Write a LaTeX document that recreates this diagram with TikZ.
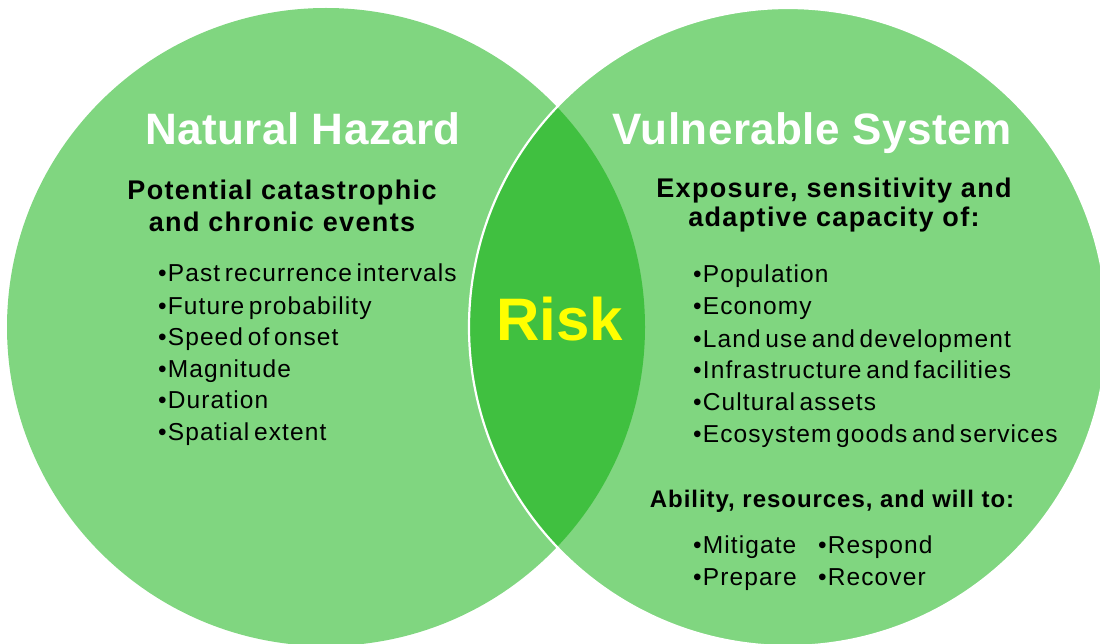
\documentclass[tikz,border=0pt]{standalone}
\usepackage{fontspec}
\setmainfont{Liberation Sans}
\newfontfamily\titlefont[LetterSpace=1]{Liberation Sans}
\newfontfamily\headfont[LetterSpace=5]{Liberation Sans}
\newfontfamily\abilityfont[LetterSpace=4]{Liberation Sans}
\newfontfamily\itemfont[LetterSpace=4.5,WordSpace=0.6]{Liberation Sans}
\definecolor{venngreen}{RGB}{128,214,128}
\definecolor{lensgreen}{RGB}{64,192,64}
\definecolor{riskyellow}{RGB}{255,255,0}
\tikzset{
  circtitle/.style={text=white, anchor=base, inner sep=0pt,
    font=\titlefont\fontsize{44}{50}\selectfont\bfseries},
  subhead/.style={text=black, anchor=base, inner sep=0pt,
    font=\headfont\fontsize{27}{30}\selectfont\bfseries},
  abilityhead/.style={text=black, anchor=base, inner sep=0pt,
    font=\abilityfont\fontsize{24}{28}\selectfont\bfseries},
  listitem/.style={text=black, anchor=base west, inner sep=0pt,
    font=\itemfont\fontsize{24.5}{28}\selectfont},
  risklabel/.style={text=riskyellow, anchor=base, inner sep=0pt,
    font=\fontsize{60}{66}\selectfont\bfseries},
}
\begin{document}
\begin{tikzpicture}[x=1pt,y=-1pt]
\useasboundingbox (0,0) rectangle (1100,644);
\coordinate (hazc) at (326,327);
\coordinate (sysc) at (788,327);
% the two sets
\fill[venngreen] (hazc) circle[radius=319pt];
\fill[venngreen] (sysc) circle[radius=319pt];
% their overlap
\begin{scope}
  \clip (hazc) circle[radius=319pt];
  \fill[lensgreen] (sysc) circle[radius=319pt];
\end{scope}
\draw[white, line width=2.2pt] (sysc) circle[radius=319pt];

% left set: hazard
\node[circtitle] (haztitle) at (303,145) {Natural Hazard};
\node[subhead] (hazsub1) at (282,200) {Potential catastrophic};
\node[subhead] (hazsub2) at (282,232) {and chronic events};
\node[listitem] (haz1) at (158,282) {•Past recurrence intervals};
\node[listitem] (haz2) at (158,314) {•Future probability};
\node[listitem] (haz3) at (158,345) {•Speed of onset};
\node[listitem] (haz4) at (158,377) {•Magnitude};
\node[listitem] (haz5) at (158,408) {•Duration};
\node[listitem] (haz6) at (158,440) {•Spatial extent};

% overlap
\node[risklabel] (risk) at (560,340) {Risk};

% right set: vulnerable system
\node[circtitle] (systitle) at (812,145) {Vulnerable System};
\node[subhead] (syssub1) at (834,198) {Exposure, sensitivity and};
\node[subhead] (syssub2) at (834,227) {adaptive capacity of:};
\node[listitem] (sys1) at (693,283) {•Population};
\node[listitem] (sys2) at (693,315) {•Economy};
\node[listitem] (sys3) at (693,347) {•Land use and development};
\node[listitem] (sys4) at (693,378) {•Infrastructure and facilities};
\node[listitem] (sys5) at (693,410) {•Cultural assets};
\node[listitem] (sys6) at (693,442) {•Ecosystem goods and services};
\node[abilityhead] (ability) at (832,507) {Ability, resources, and will to:};
\node[listitem] (act1) at (693,553) {•Mitigate};
\node[listitem] (act2) at (693,585) {•Prepare};
\node[listitem] (act3) at (818,553) {•Respond};
\node[listitem] (act4) at (818,585) {•Recover};
\end{tikzpicture}
\end{document}
